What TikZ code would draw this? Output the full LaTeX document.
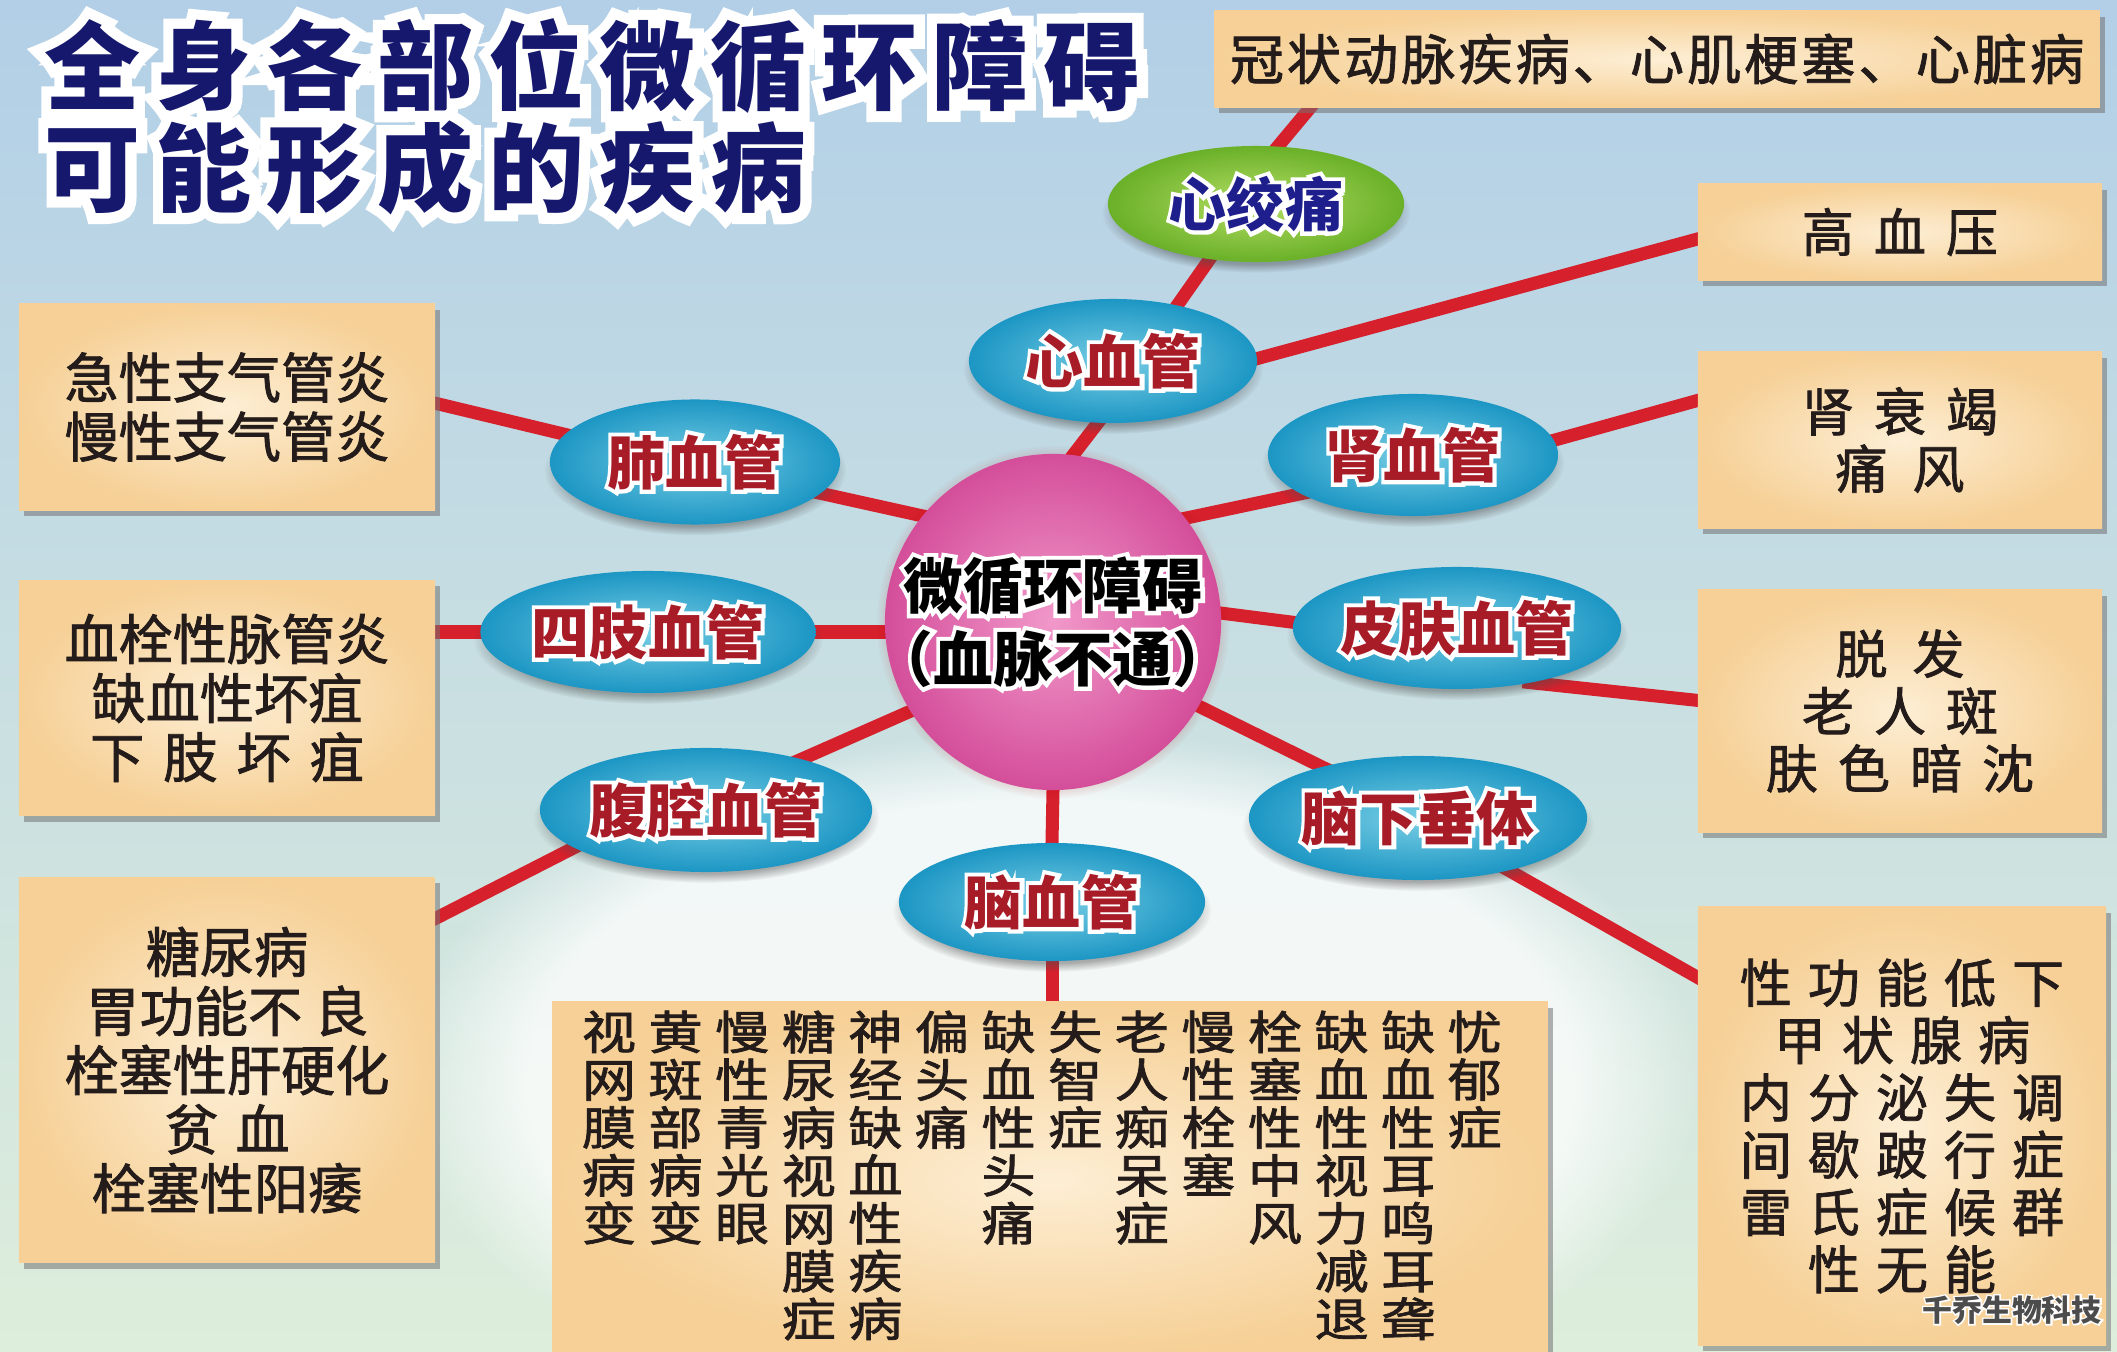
\documentclass[tikz,border=0pt]{standalone}
\usepackage{fontspec}
\usepackage{graphicx}
\newfontfamily\cjk{Noto Sans CJK SC}
\newfontfamily\cjkm[FakeBold=1.5]{Noto Sans CJK SC}
\usetikzlibrary{shapes.geometric,shadows,fadings,calc}
\pgfdeclarelayer{back}
\pgfdeclarelayer{lines}
\pgfsetlayers{back,lines,main}
\makeatletter
\protected\def\spchars#1#2{\let\sp@sep\relax\@tfor\sp@c:=#2\do{\sp@sep\sp@c\def\sp@sep{\hspace{#1}}}}
\protected\def\vcol#1{\vbox{\baselineskip=16pt\lineskiplimit=-20pt\lineskip=0pt\@tfor\vc@c:=#1\do{\hbox to 1em{\hss\vc@c\hss}}}}
\makeatother
% white halo: a stroked white copy under the text
\newcommand\hl[2][14]{\makebox[0pt][l]{\color{white}\addfontfeature{FakeBold=#1}#2}#2}
\newcommand\ttlfont{\cjk\bfseries\fontsize{27.3pt}{30pt}\selectfont}
\newcommand\elfont{\cjk\bfseries\fontsize{16.5pt}{18pt}\selectfont}
\newcommand\spfont{\cjk\bfseries\fontsize{17pt}{19pt}\selectfont}
\newcommand\bxfont{\cjkm\fontsize{15.4pt}{16.8pt}\selectfont}
\newcommand\rtfont{\cjkm\fontsize{14.8pt}{16.3pt}\selectfont}
\newcommand\clfont{\cjkm\fontsize{15.4pt}{16pt}\selectfont}
\newcommand\wmfont{\cjk\bfseries\fontsize{8.5pt}{9pt}\selectfont}
\definecolor{bgtop}{RGB}{178,207,231}
\definecolor{bgmid}{RGB}{220,237,247}
\definecolor{bgbot}{RGB}{222,238,220}
\definecolor{linered}{RGB}{214,32,44}
\definecolor{boxout}{RGB}{246,208,150}
\definecolor{boxin}{RGB}{253,238,212}
\definecolor{ellout}{RGB}{28,150,196}
\definecolor{ellin}{RGB}{120,206,228}
\definecolor{grnout}{RGB}{106,176,40}
\definecolor{grnin}{RGB}{180,222,100}
\definecolor{sphout}{RGB}{212,78,154}
\definecolor{sphin}{RGB}{241,152,202}
\definecolor{titleblue}{RGB}{22,24,110}
\definecolor{labred}{RGB}{168,28,40}
\definecolor{labblue}{RGB}{30,30,140}
\definecolor{boxtext}{RGB}{36,28,26}
\begin{document}
\begin{tikzpicture}[x=0.01cm, y=-0.01cm,
  box/.style={rectangle, inner sep=0pt, inner color=boxin, outer color=boxout,
    drop shadow={shadow xshift=0.05cm, shadow yshift=-0.06cm, opacity=0.55, fill=black!55},
    text=boxtext, align=center},
  ell/.style={ellipse, inner sep=0pt, inner color=ellin, outer color=ellout,
    circular drop shadow={shadow scale=1.04, shadow xshift=0cm, shadow yshift=-0.08cm, opacity=0.45, fill=black!70},
    font=\elfont, text=labred},
  conn/.style={draw=linered, line width=0.13cm, shorten <=-0.1cm, shorten >=-0.1cm},
  colnode/.style={anchor=north, inner sep=0pt, font=\clfont, text=boxtext}
]
\useasboundingbox (0,0) rectangle (2117,1352);
\begin{pgfonlayer}{back}
\shade[top color=bgtop, middle color=bgmid, bottom color=bgbot] (0,0) rectangle (2117,1352);
\fill[white, opacity=0.75, path fading=circle with fuzzy edge 20 percent] (1050,1080) ellipse (6.5cm and 3.5cm);
\end{pgfonlayer}

% title
\node[anchor=west, inner sep=0pt, font=\ttlfont, text=titleblue] (t1) at (44,66)
  {\hl[22]{\spchars{0.15cm}{全身各部位微循环障碍}}};
\node[anchor=west, inner sep=0pt, font=\ttlfont, text=titleblue] (t2) at (44,168)
  {\hl[22]{\spchars{0.15cm}{可能形成的疾病}}};

% boxes
\node[box, minimum width=8.85cm, minimum height=0.96cm, font=\bxfont] (top) at (1657,59)
  {\spchars{0.03cm}{冠状动脉疾病、心肌梗塞、心脏病}};
\node[box, minimum width=4.04cm, minimum height=0.96cm, font=\rtfont] (gxy) at (1900,232)
  {\spchars{0.2cm}{高血压}};
\node[box, minimum width=4.04cm, minimum height=1.76cm, font=\rtfont] (sscj) at (1900,440)
  {\spchars{0.2cm}{肾衰竭}\\\spchars{0.25cm}{痛风}};
\node[box, minimum width=4.04cm, minimum height=2.42cm, font=\rtfont] (tf) at (1900,711)
  {\spchars{0.25cm}{脱发}\\\spchars{0.2cm}{老人斑}\\\spchars{0.2cm}{肤色暗沈}};
\node[box, minimum width=4.08cm, minimum height=4.38cm, font=\rtfont] (xgn) at (1902,1126)
  {\spchars{0.16cm}{性功能低下}\\\spchars{0.16cm}{甲状腺病}\\\spchars{0.16cm}{内分泌失调}\\
   \spchars{0.16cm}{间歇跛行症}\\\spchars{0.16cm}{雷氏症候群}\\\spchars{0.16cm}{性无能}};
\node[box, minimum width=4.16cm, minimum height=2.06cm, font=\bxfont] (jx) at (227,407)
  {急性支气管炎\\慢性支气管炎};
\node[box, minimum width=4.16cm, minimum height=2.35cm, font=\bxfont] (xs) at (227,698)
  {血栓性脉管炎\\缺血性坏疽\\\spchars{0.19cm}{下肢坏疽}};
\node[box, minimum width=4.16cm, minimum height=3.85cm, font=\bxfont] (tnb) at (227,1070)
  {糖尿病\\胃功能不\hspace{0.12cm}良\\栓塞性肝硬化\\贫\hspace{0.17cm}血\\栓塞性阳痿};
\node[box, minimum width=9.95cm, minimum height=3.56cm] (bot) at (1050,1180) {};

% bottom columns
\foreach \txt [count=\i] in {视网膜病变,黄斑部病变,慢性青光眼,糖尿病视网膜症,神经缺血性疾病,偏头痛,缺血性头痛,失智症,老人痴呆症,慢性栓塞,栓塞性中风,缺血性视力减退,缺血性耳鸣耳聋,忧郁症}
  \node[colnode] (c\i) at ({609+66.6*(\i-1)},1010) {\scalebox{1}[0.85]{\expandafter\vcol\expandafter{\txt}}};

% ellipses
\node[ell, minimum width=2.96cm, minimum height=1.16cm, inner color=grnin, outer color=grnout, text=labblue] (xj) at (1256,204) {\hl{心绞痛}};
\node[ell, minimum width=2.88cm, minimum height=1.24cm] (xxg) at (1113,361) {\hl{心血管}};
\node[ell, minimum width=2.90cm, minimum height=1.22cm] (sxg) at (1413,455) {\hl{肾血管}};
\node[ell, minimum width=2.90cm, minimum height=1.25cm] (fxg) at (695,462) {\hl{肺血管}};
\node[ell, minimum width=3.35cm, minimum height=1.22cm] (szxg) at (648,632) {\hl{四肢血管}};
\node[ell, minimum width=3.25cm, minimum height=1.22cm] (pfxg) at (1457,628) {\hl{皮肤血管}};
\node[ell, minimum width=3.32cm, minimum height=1.24cm] (fqxg) at (706,810) {\hl{腹腔血管}};
\node[ell, minimum width=3.38cm, minimum height=1.24cm] (nxct) at (1418,818) {\hl{脑下垂体}};
\node[ell, minimum width=3.06cm, minimum height=1.18cm] (nxg) at (1052,902) {\hl{脑血管}};

% centre sphere
\node[circle, minimum size=3.36cm, inner sep=0pt, inner color=sphin, outer color=sphout,
  circular drop shadow={shadow scale=1.05, shadow xshift=0cm, shadow yshift=0cm, opacity=0.3, fill=red!70!black}] (sph) at (1053,622) {};
\node[font=\spfont, align=center, text=black, inner sep=0pt] (sphtxt) at (sph.center)
  {\hl{微循环障碍}\\[0.06cm]\hl{（血脉不通）}};

% watermark
\node[font=\wmfont, text=black!70, inner sep=0pt] (wm) at (2012,1310) {\hl[10]{千乔生物科技}};

% connectors
\begin{pgfonlayer}{lines}
\draw[conn] (xj.69) -- (top.188);
\draw[conn] (xj.230) -- (xxg.41);
\draw[conn] (xxg.1) -- (gxy.182);
\draw[conn] (sph.83) -- (xxg.256);
\draw[conn] (sph.38) -- (sxg.199);
\draw[conn] (sxg.6) -- (sscj.169);
\draw[conn] (sph.3) -- (pfxg.178);
\draw[conn] (pfxg.324) -- (tf.177);
\draw[conn] (sph.330) -- (nxct.152);
\draw[conn] (nxct.330) -- (xgn.144);
\draw[conn] (sph.south) -- (nxg.north);
\draw[conn] (nxg.south) -- (nxg.south |- bot.north);
\draw[conn] (sph.141) -- (fxg.346);
\draw[conn] (fxg.168) -- (jx.1);
\draw[conn] (szxg.east) -- (szxg.east -| sph.west);
\draw[conn] (szxg.west) -- (szxg.west -| xs.east);
\draw[conn] (sph.212) -- (fqxg.28);
\draw[conn] (fqxg.196) -- (tnb.36);
\end{pgfonlayer}
\end{tikzpicture}
\end{document}
